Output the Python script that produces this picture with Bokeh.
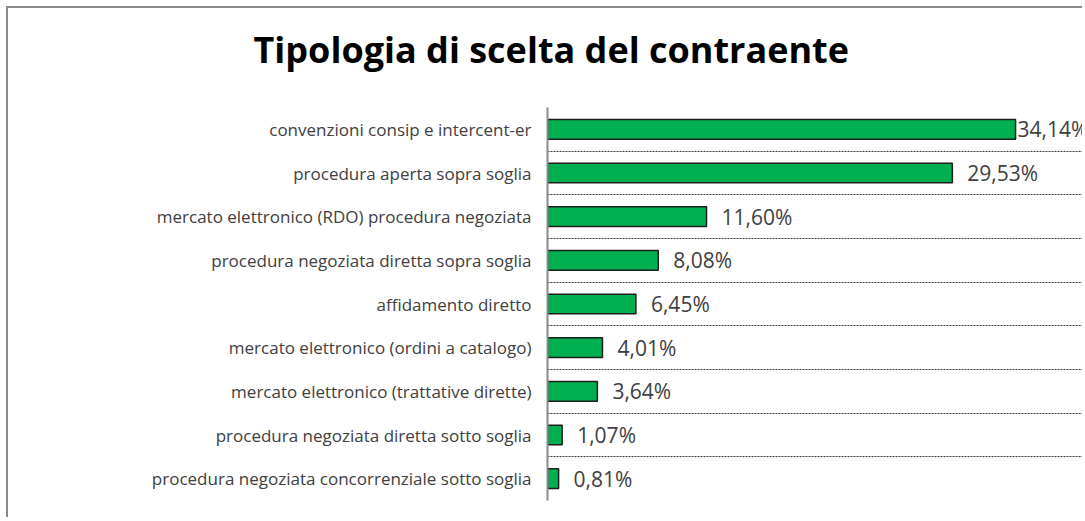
from bokeh.plotting import figure
from bokeh.models import ColumnDataSource, Range1d, FixedTicker, Title
from bokeh.core.properties import value
from bokeh.embed import file_html
from bokeh.resources import INLINE

title = "Tipologia di scelta del contraente"
categories = [
    "convenzioni consip e intercent-er",
    "procedura aperta sopra soglia",
    "mercato elettronico (RDO) procedura negoziata",
    "procedura negoziata diretta sopra soglia",
    "affidamento diretto",
    "mercato elettronico (ordini a catalogo)",
    "mercato elettronico (trattative dirette)",
    "procedura negoziata diretta sotto soglia",
    "procedura negoziata concorrenziale sotto soglia",
]
values = [34.14, 29.53, 11.60, 8.08, 6.45, 4.01, 3.64, 1.07, 0.81]
labels = ["34,14%", "29,53%", "11,60%", "8,08%", "6,45%", "4,01%", "3,64%", "1,07%", "0,81%"]

n = len(categories)
ypos = [n - i - 0.5 for i in range(n)]
vmax = max(values)
offsets = [2 if v == vmax else 15 for v in values]

src = ColumnDataSource(dict(y=ypos, v=values, lab=labels, off=offsets))

W, H = 1076, 511
p = figure(width=W, height=H, output_backend="svg", toolbar_location=None,
           x_range=Range1d(0, 39.17), y_range=Range1d(0, n), title=None,
           min_border_left=539, min_border_right=0, min_border_top=99, min_border_bottom=19)
p.styles = {"margin-left": "6px", "margin-top": "6px",
            "border-left": "2px solid #8a8a8a", "border-top": "2px solid #8a8a8a"}
p.outline_line_color = None
p.background_fill_color = "white"
p.border_fill_color = "white"

# spacer between the title and the plot area
p.add_layout(Title(text=" ", text_font_size="15px", standoff=10), "above")
p.add_layout(Title(text=title, align="left", offset=-294,
                   text_font="Open Sans", text_font_style="bold",
                   text_font_size="36px", text_color="black"), "above")

p.hbar(y="y", right="v", left=0, height=0.45, source=src,
       fill_color="#00B050", line_color="#1e1e1e", line_width=1.5)
p.text(x="v", y="y", text="lab", source=src, x_offset="off",
       text_align="left", text_baseline="middle",
       text_font=value("Open Sans"), text_font_size="21px", text_color="#404040")

p.xaxis.visible = False
p.xgrid.visible = False
p.yaxis.ticker = FixedTicker(ticks=ypos)
p.yaxis.major_label_overrides = {y: c for y, c in zip(ypos, categories)}
p.yaxis.major_tick_out = 0
p.yaxis.major_tick_in = 0
p.yaxis.minor_tick_out = 0
p.yaxis.minor_tick_in = 0
p.yaxis.major_label_standoff = 16
p.yaxis.major_label_text_font = "Open Sans"
p.yaxis.major_label_text_font_size = "17px"
p.yaxis.major_label_text_color = "#404040"
p.yaxis.axis_line_color = "#8a8a8a"
p.yaxis.axis_line_width = 2

p.ygrid.ticker = FixedTicker(ticks=list(range(n + 1)))
p.ygrid.grid_line_color = "#404040"
p.ygrid.grid_line_dash = "2 1"
p.ygrid.grid_line_width = 1

open("out.html", "w").write(file_html(p, INLINE))
